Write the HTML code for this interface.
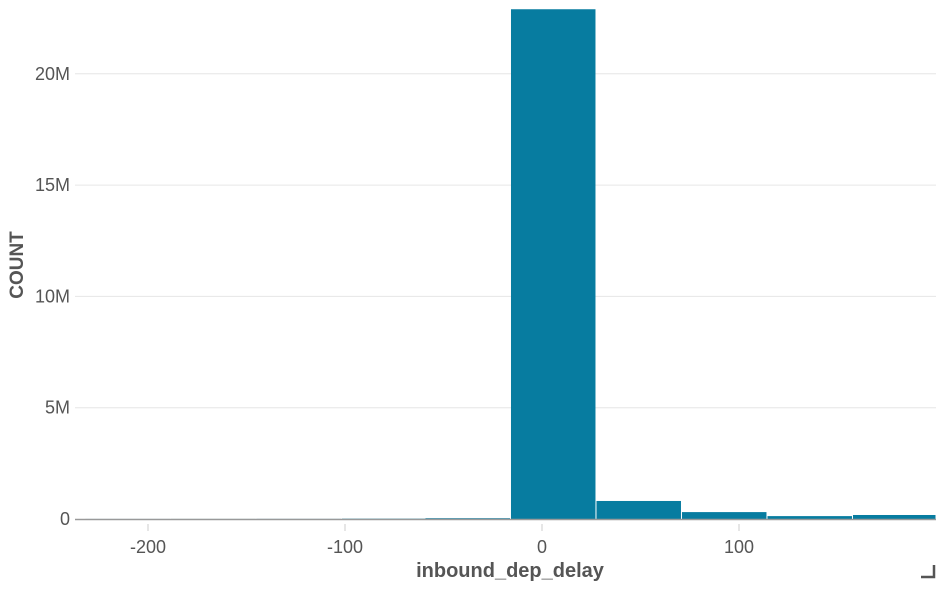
<!DOCTYPE html>
<html><head><meta charset="utf-8"><style>
body{margin:0;background:#fff;font-family:"Liberation Sans",Arial,sans-serif}
svg text{font-family:"Liberation Sans",Arial,sans-serif}
</style></head><body>
<svg width="936" height="586" id="c">
<g id="grid"></g>
<g id="bars"></g>
<g id="axes"></g>
<text x="23" y="265" transform="rotate(-90 23 265)" text-anchor="middle" font-size="19" font-weight="bold" fill="#555">COUNT</text>
<text x="510" y="577" text-anchor="middle" font-size="20" font-weight="bold" fill="#555">inbound_dep_delay</text>
<path d="M921 577 H934 V565" stroke="#555" stroke-width="2.5" fill="none"/>
</svg>
<script>
const binStarts=[-232,-188.6,-145.2,-101.8,-59.4,-16,27.4,70.8,114.2,157.6];
const binWidth=43.4;
const counts=[2000,3000,5000,15000,45000,22900000,810000,310000,130000,180000];
const yTicks=[0,5e6,1e7,1.5e7,2e7];
const yTickLabels=["0","5M","10M","15M","20M"];
const xTicks=[-200,-100,0,100];
const xTickLabels=["-200","-100","0","100"];
const ns="http://www.w3.org/2000/svg";
const L=75,R=936,Y0=519;
const x=v=>542+v*1.97;
const y=v=>Y0-v/5e6*111.3;
function mk(t,a,p){const e=document.createElementNS(ns,t);for(const k in a)e.setAttribute(k,a[k]);p.appendChild(e);return e;}
const g=document.getElementById('grid'),b=document.getElementById('bars'),ax=document.getElementById('axes');
yTicks.forEach((v,i)=>{
 if(i>0){const l=mk('line',{x1:L,x2:R,y1:y(v),y2:y(v),stroke:'#e6e6e6'},g);
 
 }
 const t=mk('text',{x:70,y:y(v)+6,'text-anchor':'end','font-size':18,fill:'#555'},ax);
 t.textContent=yTickLabels[i];
 
 
});
binStarts.forEach((s,i)=>{
 const x0=Math.max(L,x(s)),x1=Math.min(R,x(s+binWidth));
 const r=mk('rect',{x:x0+0.5,y:y(counts[i]),width:Math.max(0,x1-x0-1),height:Y0-y(counts[i]),fill:i==4?'#4f9cb8':'#077ca0'},b);
 
 
});
const al=mk('line',{x1:L,x2:R,y1:Y0+0.5,y2:Y0+0.5,stroke:'#999','stroke-width':1.5},ax);


xTicks.forEach((v,i)=>{
 const tk=mk('line',{x1:x(v),x2:x(v),y1:524,y2:531,stroke:'#ccc'},ax);
 
 
 const t=mk('text',{x:x(v),y:553,'text-anchor':'middle','font-size':18,fill:'#555'},ax);
 t.textContent=xTickLabels[i];
 
 
});
</script>
</body></html>
